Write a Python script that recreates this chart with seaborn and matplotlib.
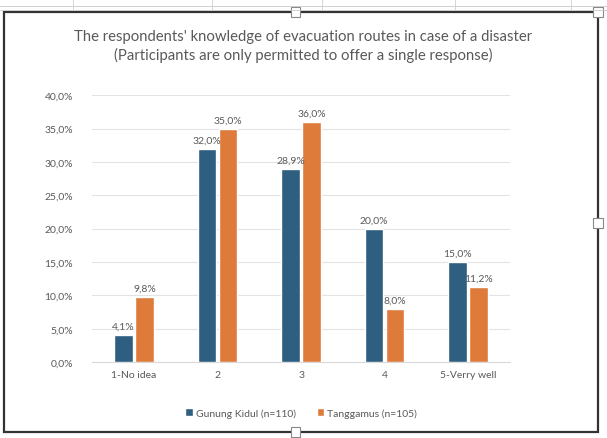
import matplotlib
matplotlib.use("Agg")
import matplotlib.pyplot as plt
import seaborn as sns
import pandas as pd
from matplotlib.patches import Rectangle

categories = ["1-No idea", "2", "3", "4", "5-Verry well"]
gunung_kidul = [4.1, 32.0, 28.9, 20.0, 15.0]
tanggamus = [9.8, 35.0, 36.0, 8.0, 11.2]
groups = ["Gunung Kidul (n=110)", "Tanggamus (n=105)"]
yticks = [0, 5, 10, 15, 20, 25, 30, 35, 40]

df = pd.DataFrame({
    "Category": categories * 2,
    "Value": gunung_kidul + tanggamus,
    "Group": [groups[0]] * len(categories) + [groups[1]] * len(categories),
})

sns.set_style("white")
plt.rcParams["font.family"] = ["Lato", "DejaVu Sans"]
grey = "#595959"

fig = plt.figure(figsize=(6.07, 4.39), dpi=100)
ax = fig.add_axes([0.152, 0.173, 0.688, 0.608])

sns.barplot(data=df, x="Category", y="Value", hue="Group",
            palette=["#2E5E80", "#DE7A3A"], saturation=1, width=0.5, gap=0.12,
            ax=ax, legend=True, zorder=3)

for cont in ax.containers:
    ax.bar_label(cont, labels=[f"{v:.1f}%".replace(".", ",") for v in cont.datavalues],
                 padding=3, fontsize=7.5, color=grey)

ax.set_ylim(0, 40)
ax.set_yticks(yticks)
ax.set_yticklabels([f"{t:.1f}%".replace(".", ",") for t in yticks], fontsize=7.5, color=grey)
ax.tick_params(axis="x", labelsize=7.5, colors=grey, length=0, pad=6)
ax.tick_params(axis="y", length=0, pad=14)
ax.yaxis.grid(True, color="#E3E3E3", linewidth=0.8, zorder=0)
ax.set_xlabel("")
ax.set_ylabel("")
for s in ["top", "right", "left"]:
    ax.spines[s].set_visible(False)
ax.spines["bottom"].set_color("#D9D9D9")

ax.legend(loc="center", bbox_to_anchor=(0.5, -0.19), ncol=2, frameon=False,
          fontsize=7.5, handlelength=0.7, handleheight=0.7, handletextpad=0.3,
          columnspacing=2.0, labelcolor=grey)

fig.text(0.5, 0.894, "The respondents' knowledge of evacuation routes in case of a disaster\n"
         "(Participants are only permitted to offer a single response)",
         ha="center", va="center", fontsize=10.7, color=grey, linespacing=1.35)

# worksheet frame around chart
fig.add_artist(Rectangle((0.006, 0.013), 0.979, 0.957, transform=fig.transFigure,
                         fill=False, edgecolor="#333333", linewidth=1.6))
for yy in [0.985, 0.975]:
    fig.add_artist(plt.Line2D([0, 1], [yy, yy], transform=fig.transFigure,
                              color="#C8C8C8", linewidth=0.6))
for xx in [0.12, 0.35, 0.53, 0.75, 0.94]:
    fig.add_artist(plt.Line2D([xx, xx], [0.975, 1.0], transform=fig.transFigure,
                              color="#D0D0D0", linewidth=0.6))
for (hx, hy) in [(0.487, 0.970), (0.487, 0.013), (0.985, 0.49), (0.985, 0.970)]:
    fig.add_artist(Rectangle((hx - 0.008, hy - 0.011), 0.016, 0.022, transform=fig.transFigure,
                             facecolor="white", edgecolor="#888888", linewidth=0.8))

fig.savefig("out.png", dpi=100)
